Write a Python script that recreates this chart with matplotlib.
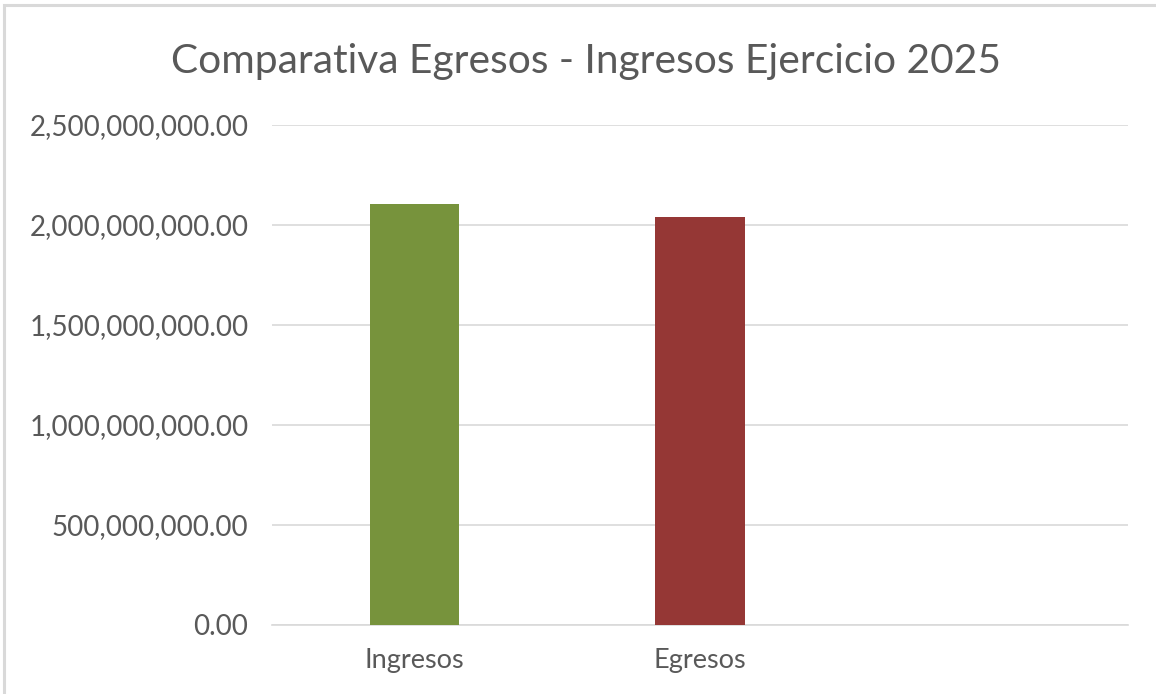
import matplotlib.pyplot as plt
from matplotlib.ticker import FuncFormatter
from matplotlib.patches import Rectangle

categorias = ["Ingresos", "Egresos", ""]
montos = [2106000000, 2038000000, 0]
colores = ["#77933C", "#953735", "#FFFFFF"]
ticks = [0, 500000000, 1000000000, 1500000000, 2000000000, 2500000000]

plt.rcParams['font.family'] = ['Lato', 'DejaVu Sans']
gris = "#595959"

fig = plt.figure(figsize=(11.56, 6.94), dpi=100)
ax = fig.add_axes([272/1156, 1 - 624.5/694, (1128-272)/1156, (624.5-125)/694])

# marco del grafico (se sale por la derecha y abajo)
fig.patches.append(Rectangle((4/1156, -0.1), 1.2, 1 - 5/694 + 0.1, transform=fig.transFigure,
                             fill=False, edgecolor="#D9D9D9", linewidth=2.2))

x = range(len(categorias))
ax.bar(x, montos, width=0.312, color=colores, zorder=3)

ax.set_xlim(-0.5, 2.5)
ax.set_ylim(0, 2500000000)
ax.set_yticks(ticks)
ax.yaxis.set_major_formatter(FuncFormatter(lambda v, p: "{:,.2f}".format(v)))
ax.set_xticks(list(x))
ax.set_xticklabels(categorias)
ax.grid(axis="y", color="#D9D9D9", linewidth=1.2, zorder=0)
for s in ["top", "right", "left"]:
    ax.spines[s].set_visible(False)
ax.spines["bottom"].set_color("#D9D9D9")
ax.spines["bottom"].set_linewidth(1.2)
ax.tick_params(axis="y", length=0, pad=17, labelsize=20, labelcolor=gris)
ax.tick_params(axis="x", length=0, pad=17, labelsize=19.5, labelcolor=gris)

fig.text(586/1156, 1 - 62/694, "Comparativa Egresos - Ingresos Ejercicio 2025",
         ha="center", va="center", fontsize=29.3, color=gris)

fig.savefig("out.png", dpi=100)
